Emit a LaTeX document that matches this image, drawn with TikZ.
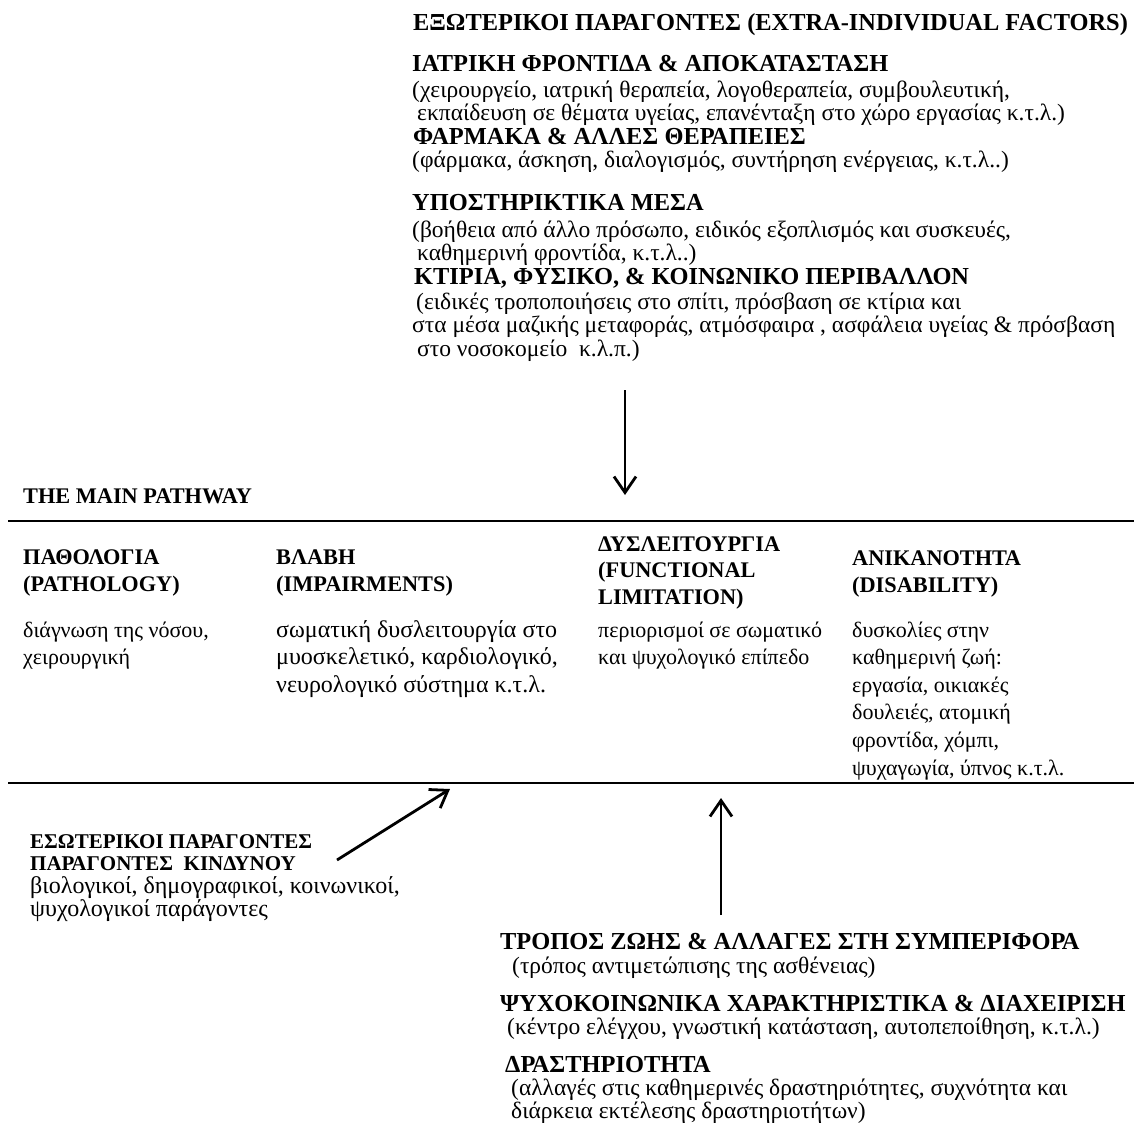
\documentclass[tikz,border=0pt]{standalone}
\usepackage{fontspec}
\setmainfont{Liberation Serif}
\usetikzlibrary{arrows.meta}
\setlength{\lineskiplimit}{-20pt}

\newcommand{\gap}[1][5pt]{\hspace*{#1}}
\newcommand{\hd}[1]{{\bfseries\fontsize{24.4}{23.5}\selectfont #1}}
\newcommand{\hds}[1]{{\bfseries\fontsize{21}{22.5}\selectfont #1}}

\tikzset{
  txt/.style={anchor=base west, inner sep=0pt, align=left,
    font=\fontsize{23.5}{23.5}\selectfont},
  colhdr/.style={anchor=base west, inner sep=0pt, align=left,
    font=\bfseries\fontsize{22.3}{26.5}\selectfont},
  coltxt/.style={anchor=base west, inner sep=0pt, align=left},
  lowtxt/.style={anchor=base west, inner sep=0pt, align=left,
    font=\fontsize{24}{23}\selectfont},
  hline/.style={line width=2.6pt},
  arr/.style={line width=2.8pt, -{Straight Barb[length=16pt,width=22pt]}}
}

\begin{document}
\begin{tikzpicture}[x=1pt, y=-1pt]
\useasboundingbox (0,0) rectangle (1134,1148);

% extra-individual factors
\node[txt] (extra) at (413,31) {\hd{ΕΞΩΤΕΡΙΚΟΙ ΠΑΡΑΓΟΝΤΕΣ (EXTRA-INDIVIDUAL FACTORS)}};
\node[txt] (care) at (412,120.5) {\hd{ΙΑΤΡΙΚΗ ΦΡΟΝΤΙΔΑ \& ΑΠΟΚΑΤΑΣΤΑΣΗ}\\[2.5pt]
  (χειρουργείο, ιατρική θεραπεία, λογοθεραπεία, συμβουλευτική,\\
  \gap εκπαίδευση σε θέματα υγείας, επανένταξη στο χώρο εργασίας κ.τ.λ.)};
\node[txt] (drugs) at (412,167) {\gap[1pt]\hd{ΦΑΡΜΑΚΑ \& ΑΛΛΕΣ ΘΕΡΑΠΕΙΕΣ}\\[-0.5pt]
  (φάρμακα, άσκηση, διαλογισμός, συντήρηση ενέργειας, κ.τ.λ..)};
\node[txt] (aids) at (412,260.5) {\hd{ΥΠΟΣΤΗΡΙΚΤΙΚΑ ΜΕΣΑ}\\[3.5pt]
  (βοήθεια από άλλο πρόσωπο, ειδικός εξοπλισμός και συσκευές,\\
  \gap καθημερινή φροντίδα, κ.τ.λ..)};
\node[txt] (env) at (412,356) {\gap[2pt]\hd{ΚΤΙΡΙΑ, ΦΥΣΙΚΟ, \& ΚΟΙΝΩΝΙΚΟ ΠΕΡΙΒΑΛΛΟΝ}\\[1.5pt]
  \gap[4pt](ειδικές τροποποιήσεις στο σπίτι, πρόσβαση σε κτίρια και\\
  στα μέσα μαζικής μεταφοράς, ατμόσφαιρα , ασφάλεια υγείας \& πρόσβαση\\
  \gap στο νοσοκομείο\ \ κ.λ.π.)};

% main pathway
\node[colhdr] (main) at (23,503) {THE MAIN PATHWAY};
\coordinate (top0) at (8,521);
\coordinate (top1) at (1134,521);
\coordinate (bot0) at (8,783);
\coordinate (bot1) at (1134,783);
\draw[hline] (top0) -- (top1);
\draw[hline] (bot0) -- (bot1);

% columns: x / last header line / last text line / text size / name
\foreach \x/\y/\yy/\fs/\n/\head/\body in {
  23/591/664.6/22/patho/{ΠΑΘΟΛΟΓΙΑ\\(PATHOLOGY)}/{διάγνωση της νόσου,\\χειρουργική},
  276/591/692.2/24/impair/{ΒΛΑΒΗ\\(IMPAIRMENTS)}/{σωματική δυσλειτουργία στο\\μυοσκελετικό, καρδιολογικό,\\νευρολογικό σύστημα κ.τ.λ.},
  598/604/664.6/22/limit/{ΔΥΣΛΕΙΤΟΥΡΓΙΑ\\(FUNCTIONAL\\LIMITATION)}/{περιορισμοί σε σωματικό\\και ψυχολογικό επίπεδο},
  852/592/775/22/disab/{ΑΝΙΚΑΝΟΤΗΤΑ\\(DISABILITY)}/{δυσκολίες στην\\καθημερινή ζωή:\\εργασία, οικιακές\\δουλειές, ατομική\\φροντίδα, χόμπι,\\ψυχαγωγία, ύπνος κ.τ.λ.}} {
  \node[colhdr] (\n) at (\x,\y) {\head};
  \node[coltxt, font=\fontsize{\fs}{27.6}\selectfont] (\n txt) at (\x,\yy) {\body};
}

% intra-individual factors
\node[lowtxt] (risk) at (30,916) {\hds{ΕΣΩΤΕΡΙΚΟΙ ΠΑΡΑΓΟΝΤΕΣ}\\[-0.5pt]
  \hds{ΠΑΡΑΓΟΝΤΕΣ\ \ ΚΙΝΔΥΝΟΥ}\\[-0.5pt]
  βιολογικοί, δημογραφικοί, κοινωνικοί,\\
  ψυχολογικοί παράγοντες};

\node[txt] (life) at (500,973) {\hd{ΤΡΟΠΟΣ ΖΩΗΣ \& ΑΛΛΑΓΕΣ ΣΤΗ ΣΥΜΠΕΡΙΦΟΡΑ}\\[0.5pt]
  \gap[12pt](τρόπος αντιμετώπισης της ασθένειας)};
\node[txt] (psych) at (500,1034) {\hd{ΨΥΧΟΚΟΙΝΩΝΙΚΑ ΧΑΡΑΚΤΗΡΙΣΤΙΚΑ \& ΔΙΑΧΕΙΡΙΣΗ}\\[-0.5pt]
  \gap[7pt](κέντρο ελέγχου, γνωστική κατάσταση, αυτοπεποίθηση, κ.τ.λ.)};
\node[txt] (activ) at (500,1118) {\gap\hd{ΔΡΑΣΤΗΡΙΟΤΗΤΑ}\\[-0.5pt]
  \gap[11pt](αλλαγές στις καθημερινές δραστηριότητες, συχνότητα και\\[-0.5pt]
  \gap[11pt]διάρκεια εκτέλεσης δραστηριοτήτων)};

% arrows
\coordinate (envout) at (625,390);
\coordinate (envin) at (625,495);
\coordinate (riskout) at (337,860);
\coordinate (riskin) at (450,789);
\coordinate (lifeout) at (721,915);
\coordinate (lifein) at (721,798);
\draw[arr] (envout) -- (envin);
\draw[arr] (riskout) -- (riskin);
\draw[arr] (lifeout) -- (lifein);

\end{tikzpicture}
\end{document}
